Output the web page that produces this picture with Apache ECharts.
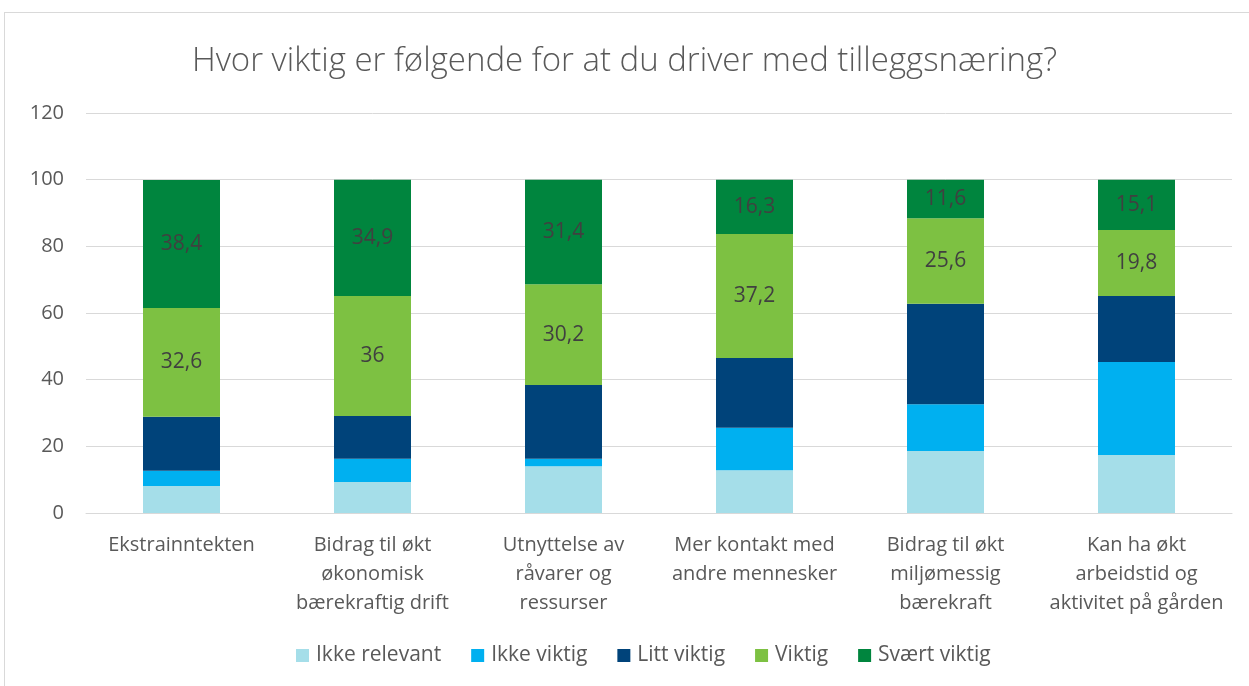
<!DOCTYPE html>
<html>
<head>
<meta charset="utf-8">
<script src="https://cdn.jsdelivr.net/npm/echarts@6/dist/echarts.min.js"></script>
<style>
  html, body { margin: 0; padding: 0; background: #fff; }
  #frame { position: absolute; left: 4px; top: 12px; width: 1260px; height: 700px; border: 1px solid #d9d9d9; box-sizing: border-box; }
  #chart { position: absolute; left: 0; top: 0; width: 1249px; height: 686px; }
</style>
</head>
<body>
<div id="frame"></div>
<div id="chart"></div>
<script>
const categories = [
  'Ekstrainntekten',
  'Bidrag til økt\nøkonomisk\nbærekraftig drift',
  'Utnyttelse av\nråvarer og\nressurser',
  'Mer kontakt med\nandre mennesker',
  'Bidrag til økt\nmiljømessig\nbærekraft',
  'Kan ha økt\narbeidstid og\naktivitet på gården'
]
const ikkeRelevant = [8.1, 9.3, 14.0, 12.8, 18.6, 17.4]
const ikkeViktig = [4.6, 7.0, 2.3, 12.8, 14.0, 27.9]
const littViktig = [16.2, 12.8, 22.1, 20.9, 30.2, 19.8]
const viktig = [32.6, 36, 30.2, 37.2, 25.6, 19.8]
const svaertViktig = [38.4, 34.9, 31.4, 16.3, 11.6, 15.1]

const font = 'Open Sans, Noto Sans, sans-serif'
const chart = echarts.init(document.getElementById('chart'))

function bar(name, data, color, showLabel) {
  return {
    name: name,
    type: 'bar',
    stack: 'total',
    data: data,
    barWidth: 77,
    itemStyle: { color: color },
    label: {
      show: showLabel,
      position: 'inside',
      color: '#404040',
      fontSize: 21,
      fontFamily: font,
      formatter: function (p) { return String(p.value).replace('.', ',') }
    }
  }
}

chart.setOption({
  animation: false,
  title: {
    text: 'Hvor viktig er følgende for at du driver med tilleggsnæring?',
    left: 'center',
    top: 40,
    textStyle: { color: '#595959', fontSize: 33, fontWeight: 300, fontFamily: font }
  },
  grid: { left: 86, right: 17, top: 113, bottom: 173 },
  legend: {
    bottom: 15,
    left: 291,
    itemWidth: 13,
    itemHeight: 13,
    itemGap: 30,
    icon: 'rect',
    textStyle: { color: '#595959', fontSize: 21, fontFamily: font, padding: [0, 0, 0, 2] }
  },
  xAxis: {
    type: 'category',
    data: categories,
    axisLine: { lineStyle: { color: '#d9d9d9', width: 1 } },
    axisTick: { show: false },
    axisLabel: { color: '#595959', fontSize: 20, fontFamily: font, lineHeight: 29, margin: 18, interval: 0 }
  },
  yAxis: {
    type: 'value',
    min: 0,
    max: 120,
    interval: 20,
    axisLine: { show: false },
    axisTick: { show: false },
    splitLine: { lineStyle: { color: '#d9d9d9', width: 1 } },
    axisLabel: { color: '#595959', fontSize: 20, fontFamily: font, margin: 22 }
  },
  series: [
    bar('Ikke relevant', ikkeRelevant, '#a5dee9', false),
    bar('Ikke viktig', ikkeViktig, '#00b0f0', false),
    bar('Litt viktig', littViktig, '#00437a', false),
    bar('Viktig', viktig, '#7dc142', true),
    bar('Svært viktig', svaertViktig, '#00853e', true)
  ]
})
</script>
</body>
</html>
